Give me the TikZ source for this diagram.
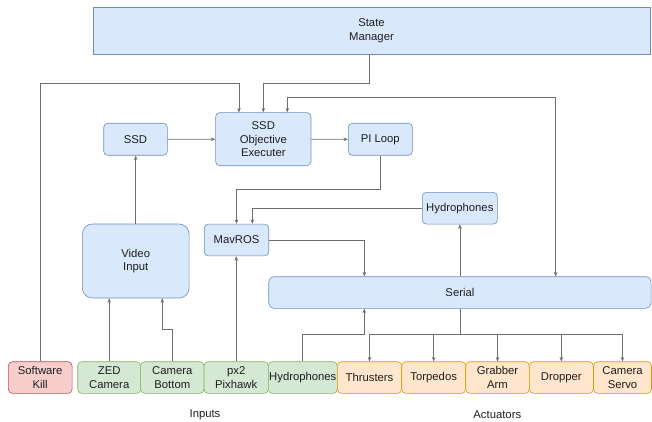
\documentclass[tikz,border=0pt]{standalone}
\usepackage{fontspec}
\setmainfont{Liberation Sans}
\usetikzlibrary{arrows.meta,calc}
\definecolor{bfill}{HTML}{DAE8FC}\definecolor{bdraw}{HTML}{6C8EBF}
\definecolor{gfill}{HTML}{D5E8D4}\definecolor{gdraw}{HTML}{82B366}
\definecolor{rfill}{HTML}{F8CECC}\definecolor{rdraw}{HTML}{B85450}
\definecolor{ofill}{HTML}{FFE6CC}\definecolor{odraw}{HTML}{D79B00}
\definecolor{txt}{HTML}{1E1E1E}
\definecolor{wire}{HTML}{6E6E6E}
\tikzset{
  box/.style={draw, rounded corners=4pt, line width=0.6pt, inner sep=0pt, align=center,
    text=txt, font=\fontsize{11.3}{13.8}\selectfont},
  bluebox/.style={box, fill=bfill, draw=bdraw},
  greenbox/.style={box, fill=gfill, draw=gdraw},
  redbox/.style={box, fill=rfill, draw=rdraw},
  orangebox/.style={box, fill=ofill, draw=odraw},
  wireline/.style={draw=wire, line width=0.7pt},
  arr/.style={wireline, -{Stealth[length=4.5pt,width=3.6pt]}},
  darr/.style={wireline, {Stealth[length=4.5pt,width=3.6pt]}-{Stealth[length=4.5pt,width=3.6pt]}},
  lbl/.style={text=txt, font=\fontsize{11.3}{13.8}\selectfont, inner sep=0pt}
}
\begin{document}
\begin{tikzpicture}[x=1pt,y=-1pt]
\useasboundingbox (0,0) rectangle (652,422);
% top
\node[bluebox, rounded corners=0pt, minimum width=557pt, minimum height=47pt] (sm) at (371.5,30.8) {State\\Manager};
\node[bluebox, minimum width=95.3pt, minimum height=53pt] (exe) at (263.3,139.2) {SSD\\Objective\\Executer};
\node[bluebox, minimum width=63.6pt, minimum height=32pt] (ssd) at (135.5,139.3) {SSD};
\node[bluebox, minimum width=64pt, minimum height=32pt] (pil) at (380.3,139.3) {PI Loop};
\node[bluebox, rounded corners=10pt, minimum width=106.7pt, minimum height=74pt] (vid) at (135.7,261) {Video\\Input};
\node[bluebox, minimum width=64.4pt, minimum height=31.7pt] (mav) at (236.5,240) {MavROS};
\node[bluebox, minimum width=75pt, minimum height=31.7pt] (hyd1) at (459.8,208.2) {Hydrophones};
\node[bluebox, rounded corners=5pt, minimum width=382.3pt, minimum height=31.6pt] (ser) at (459.9,292.5) {Serial};
% bottom row
\node[redbox, minimum width=63.7pt, minimum height=31.6pt] (sk) at (40.2,377.5) {Software\\Kill};
\node[greenbox, minimum width=63pt, minimum height=31.6pt] (zed) at (109.2,377.5) {ZED\\Camera};
\node[greenbox, minimum width=63.3pt, minimum height=31.6pt] (cb) at (172.3,377.5) {Camera\\Bottom};
\node[greenbox, minimum width=64.3pt, minimum height=31.6pt] (px) at (236.2,377.5) {px2\\Pixhawk};
\node[greenbox, minimum width=69pt, minimum height=31.6pt] (hyd2) at (302.8,377.5) {Hydrophones};
\node[orangebox, minimum width=64.4pt, minimum height=31.6pt] (thr) at (369.5,377.5) {Thrusters};
\node[orangebox, minimum width=64pt, minimum height=31.6pt] (tor) at (433.7,377.5) {Torpedos};
\node[orangebox, minimum width=63.6pt, minimum height=31.6pt] (gra) at (497.5,377.5) {Grabber\\Arm};
\node[orangebox, minimum width=64pt, minimum height=31.6pt] (dro) at (561.3,377.5) {Dropper};
\node[orangebox, minimum width=58pt, minimum height=31.6pt] (cam) at (622.5,377.5) {Camera\\Servo};
% labels
\node[lbl] (inl) at (205,415) {Inputs};
\node[lbl] (act) at (497.3,415) {Actuators};
% helper coordinates
\coordinate (yk) at (0,83.3);
\coordinate (srtop) at (555.7,97.3);
% connectors
\draw[arr] (sk.north) -- (sk.north |- yk) -| ([xshift=-24.3pt]exe.north);
\draw[arr] ([xshift=-2.5pt]sm.south) -- ++(0,29) -| (exe.north);
\draw[darr] ([xshift=24pt]exe.north) |- (srtop) -- (srtop |- ser.north);
\draw[arr] (ssd.east) -- (exe.west);
\draw[arr] (exe.east) -- (pil.west);
\draw[arr] (vid.north) -- (vid.north |- ssd.south);
\draw[arr] (pil.south) -- ++(0,34) -| (mav.north);
\draw[arr] (hyd1.west) -| ([xshift=15.8pt]mav.north);
\draw[arr] (mav.east) -| ([xshift=-95.6pt]ser.north);
\draw[arr] (ser.north) -- (ser.north |- hyd1.south);
\draw[arr] (zed.north) -- (zed.north |- vid.south);
\draw[arr] (cb.north) -- ++(0,-32.4) -| ([xshift=26.6pt]vid.south);
\draw[arr] (px.north) -- (px.north |- mav.south);
\draw[arr] (hyd2.north) -- ++(0,-27.4) -| ([xshift=-95.6pt]ser.south);
\draw[wireline] (ser.south) -- ++(0,25.8) coordinate (sj);
\draw[arr] (sj) -| (thr.north);
\draw[arr] (sj) -| (tor.north);
\draw[arr] (sj) -| (gra.north);
\draw[arr] (sj) -| (dro.north);
\draw[arr] (sj) -| (cam.north);
\end{tikzpicture}
\end{document}
